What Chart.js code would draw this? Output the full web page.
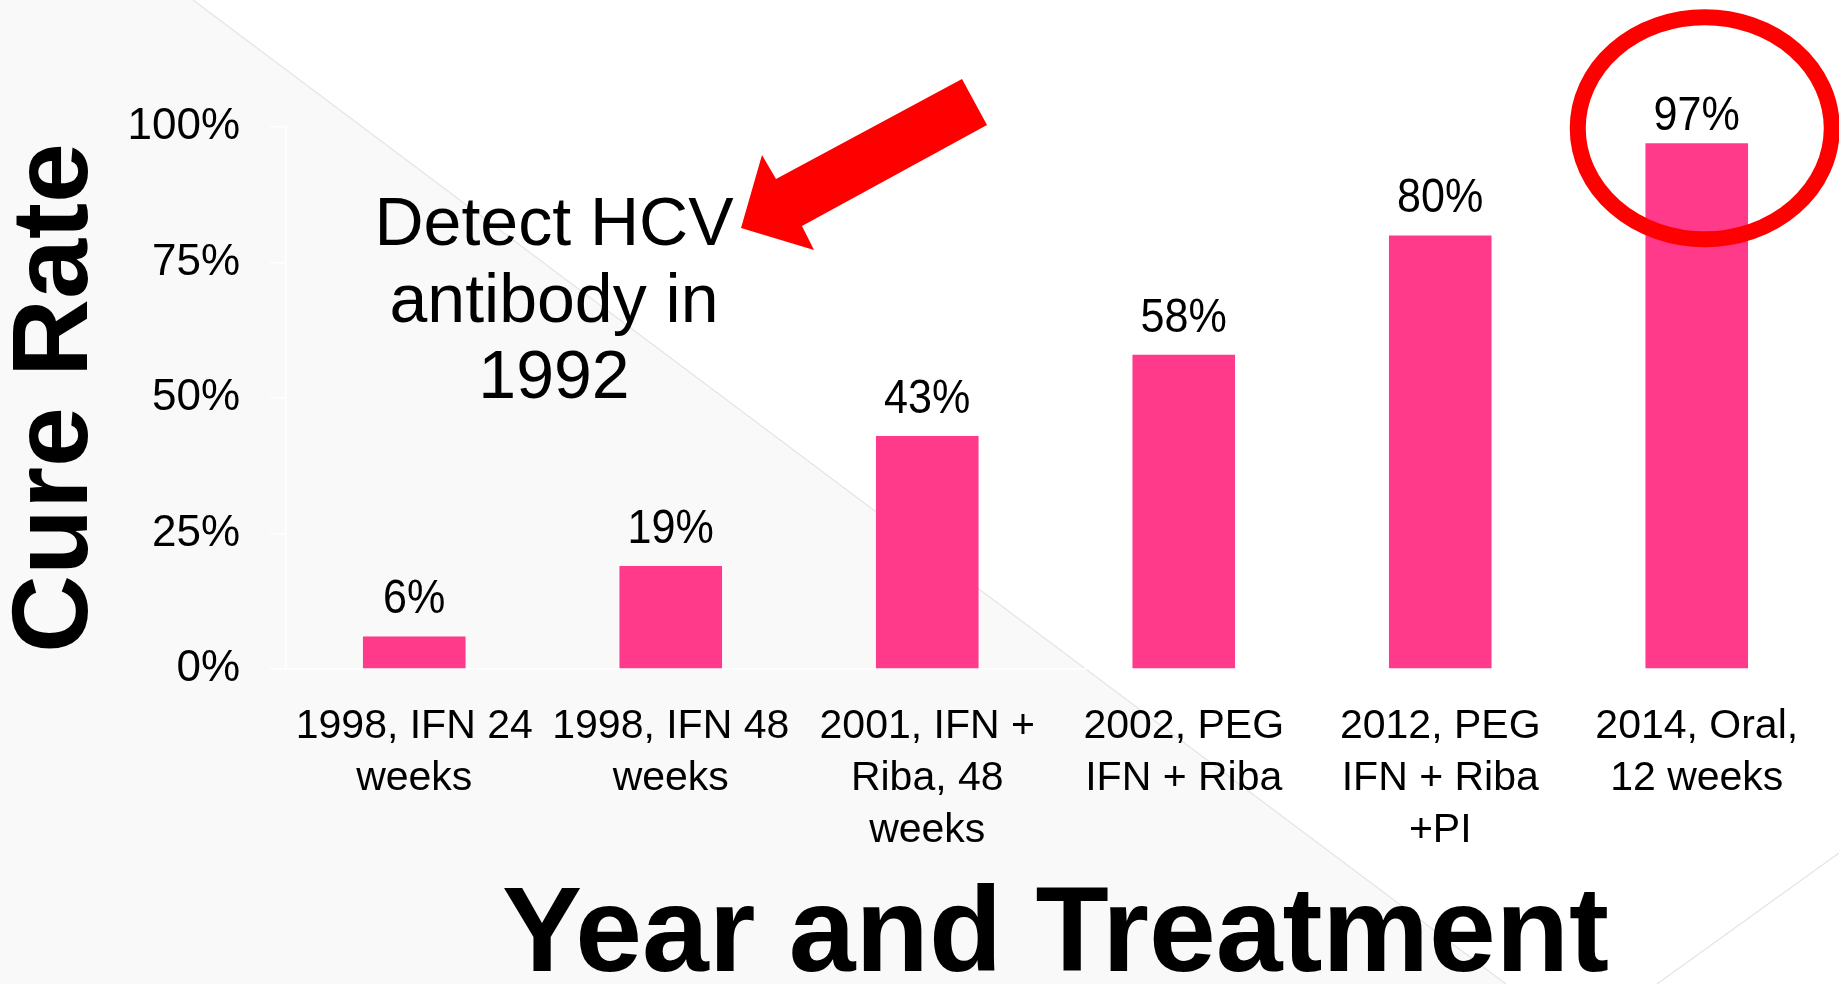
<!DOCTYPE html>
<html lang="en">
<head>
  <meta charset="UTF-8">
  <title>Cure Rate by Year and Treatment</title>
  <script src="https://cdn.jsdelivr.net/npm/chart.js"></script>
  <style>
    html, body { margin: 0; padding: 0; background: #fff; }
    #wrap { width: 1839px; height: 984px; position: relative; }
  </style>
</head>
<body>
<div id="wrap"><canvas id="grafica"></canvas></div>

<script>
// data
const categorias = [
  ["1998, IFN 24", "weeks"],
  ["1998, IFN 48", "weeks"],
  ["2001, IFN +", "Riba, 48", "weeks"],
  ["2002, PEG", "IFN + Riba"],
  ["2012, PEG", "IFN + Riba", "+PI"],
  ["2014, Oral,", "12 weeks"]
];
const curacion = [6, 19, 43, 58, 80, 97];
const ticksY = [0, 25, 50, 75, 100];
const nota = ["Detect HCV", "antibody in", "1992"];

const fuente = "'Liberation Sans', Arial, sans-serif";

// slide background: grey facet on the left, thin grey lines
const fondo = {
  id: 'fondo',
  beforeDraw(chart) {
    const c = chart.ctx, w = chart.width, h = chart.height;
    c.save();
    c.fillStyle = '#ffffff';
    c.fillRect(0, 0, w, h);
    c.fillStyle = '#f9f9f9';
    c.beginPath();
    c.moveTo(0, 0); c.lineTo(193, 0); c.lineTo(1506, h); c.lineTo(0, h);
    c.closePath(); c.fill();
    c.strokeStyle = '#e4e4e4';
    c.lineWidth = 1.2;
    c.beginPath(); c.moveTo(193, 0); c.lineTo(1506, h); c.stroke();
    c.beginPath(); c.moveTo(w, 853); c.lineTo(1657, h); c.stroke();
    c.restore();
  }
};

// value labels above bars, note text, arrow and circle
const extras = {
  id: 'extras',
  afterDatasetsDraw(chart) {
    const c = chart.ctx;
    const area = chart.chartArea;
    const barras = chart.getDatasetMeta(0).data;
    c.save();
    c.fillStyle = '#000';
    c.font = "49px " + fuente;
    c.textAlign = 'center';
    c.textBaseline = 'alphabetic';
    barras.forEach((b, i) => {
      const y = Math.max(b.y - 23, area.top + 3);
      c.save();
      c.translate(b.x, y);
      c.scale(0.88, 1);
      c.fillText(curacion[i] + '%', 0, 0);
      c.restore();
    });

    c.font = "68px " + fuente;
    [245, 322, 398].forEach((y, i) => c.fillText(nota[i], 554, y));

    // red block arrow
    c.fillStyle = '#ff0000';
    c.beginPath();
    c.moveTo(962, 79); c.lineTo(987, 125); c.lineTo(802, 226); c.lineTo(814, 250);
    c.lineTo(741, 228); c.lineTo(762, 155); c.lineTo(776, 179);
    c.closePath(); c.fill();

    // circle round the last bar
    const ult = barras[barras.length - 1];
    c.strokeStyle = '#ff0000';
    c.lineWidth = 16;
    c.beginPath();
    c.ellipse(ult.x + 8, ult.y - 15, 127, 111, 0, 0, Math.PI * 2);
    c.stroke();
    c.restore();
  }
};

new Chart(document.getElementById('grafica').getContext('2d'), {
  type: 'bar',
  data: {
    labels: categorias,
    datasets: [{
      data: curacion,
      backgroundColor: '#ff3a8a',
      categoryPercentage: 0.8,
      barPercentage: 0.5
    }]
  },
  options: {
    responsive: true,
    maintainAspectRatio: false,
    animation: false,
    layout: { padding: { top: 127, right: 14, bottom: 0, left: 0 } },
    plugins: { legend: { display: false }, tooltip: { enabled: false } },
    scales: {
      x: {
        afterFit: s => { s.height = 315; },
        grid: { display: false, drawTicks: false },
        border: { display: true, color: '#ffffff', width: 1.5 },
        ticks: {
          color: '#000', autoSkip: false, maxRotation: 0, padding: 32,
          font: { family: fuente, size: 41, lineHeight: 1.27 }
        },
        title: {
          display: true, text: 'Year and Treatment', color: '#000',
          font: { family: fuente, size: 120, weight: 'bold', lineHeight: 0.75 },
          padding: { top: 0, bottom: 1 }
        }
      },
      y: {
        min: 0, max: 100,
        afterFit: s => { s.width = 286; },
        afterBuildTicks: s => { s.ticks = ticksY.map(v => ({ value: v })); },
        grid: { drawOnChartArea: false, drawTicks: true, tickLength: 16, color: '#ffffff', lineWidth: 1.5 },
        border: { display: true, color: '#ffffff', width: 1.5 },
        ticks: {
          color: '#000', padding: 30,
          font: { family: fuente, size: 44 },
          callback: v => v + '%'
        },
        title: {
          display: true, text: 'Cure Rate', color: '#000',
          font: { family: fuente, size: 108, weight: 'bold', lineHeight: 1 },
          padding: { top: 3, bottom: 0 }
        }
      }
    }
  },
  plugins: [fondo, extras]
});
</script>
</body>
</html>
